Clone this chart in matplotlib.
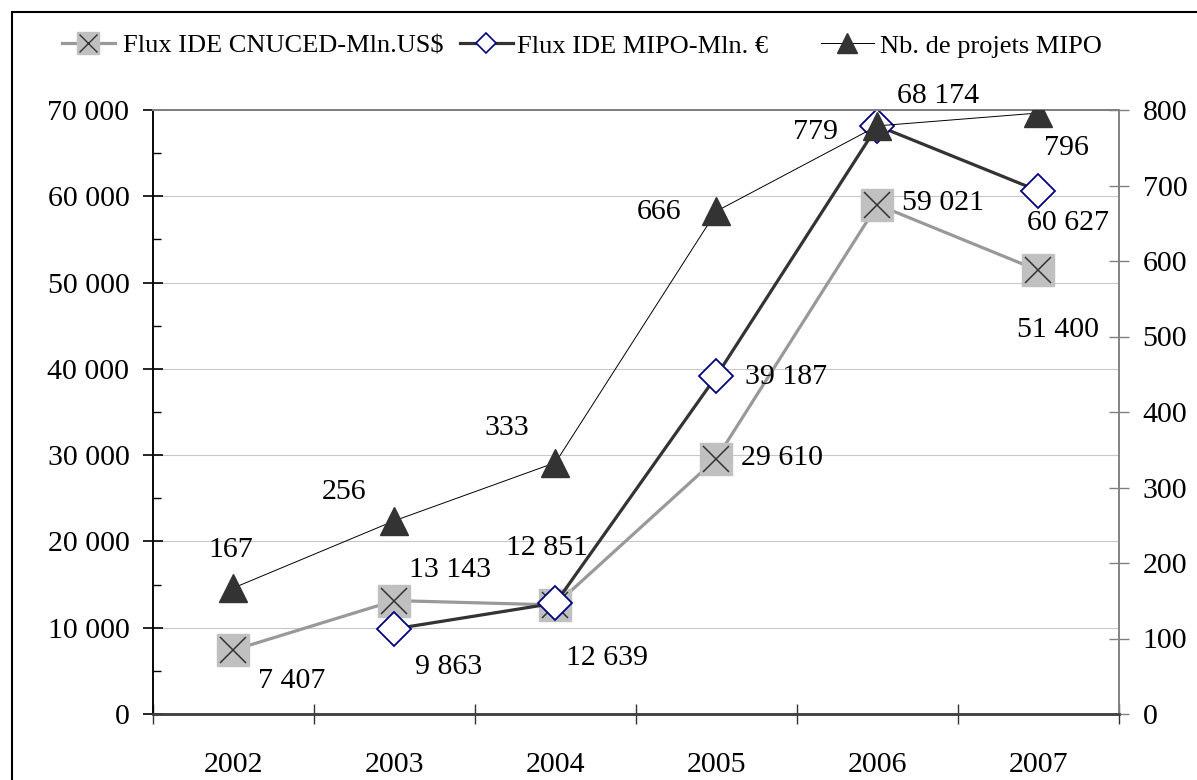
import matplotlib
matplotlib.use("Agg")
import matplotlib.pyplot as plt
from matplotlib.lines import Line2D
from matplotlib.patches import Rectangle
from matplotlib.ticker import FixedLocator, FuncFormatter, MultipleLocator

# ---- data ----
years = ["2002", "2003", "2004", "2005", "2006", "2007"]
flux_cnuced = [7407, 13143, 12639, 29610, 59021, 51400]
flux_mipo = [None, 9863, 12851, 39187, 68174, 60627]
nb_projets = [167, 256, 333, 666, 779, 796]

# label offsets in pixels (dx, dy), one per point
off_cnuced = [(58, -31), (56, 31), (52, -53), (66, 1), (66, 2), (20, -60)]
off_mipo = [None, (54, -38), (-9, 55), (70, -1), (61, 30), (30, -32)]
off_projets = [(-3, 38), (-50, 29), (-49, 35), (-57, -1), (-62, -6), (28, -35)]

plt.rcParams["font.family"] = ["Liberation Serif", "DejaVu Serif"]

W, H = 1197, 780
PX = 0.72  # points per pixel at dpi 100


def sp(v, _pos=None):
    return f"{v:,.0f}".replace(",", " ")


fig = plt.figure(figsize=(W / 100, H / 100), dpi=100)
ax = fig.add_axes([153 / W, 66 / H, (1119 - 153) / W, (714 - 110) / H])
ax2 = ax.twinx()

x = list(range(len(years)))
xm = [i for i, v in zip(x, flux_mipo) if v is not None]
ym = [v for v in flux_mipo if v is not None]

ax.plot(x, flux_cnuced, color="#999999", lw=2.3, zorder=3,
        marker="s", ms=23, mfc="#C0C0C0", mec="#C0C0C0")
ax.plot(x, flux_cnuced, ls="none", marker="x", ms=19, mec="#333333",
        mew=1.1, zorder=4)
ax.plot(xm, ym, color="#333333", lw=2.3, zorder=5,
        marker="D", ms=17.5, mfc="white", mec="#000080", mew=1.3)
ax2.plot(x, nb_projets, color="black", lw=0.7, zorder=3,
         marker="^", ms=20, mfc="#333333", mec="#333333")

fs = 21.5
for i, v in enumerate(flux_cnuced):
    dx, dy = off_cnuced[i]
    ax.annotate(sp(v), (i, v), xytext=(dx * PX, dy * PX),
                textcoords="offset points", ha="center", va="center",
                fontsize=fs, zorder=6)
for i, v in enumerate(flux_mipo):
    if v is None:
        continue
    dx, dy = off_mipo[i]
    ax.annotate(sp(v), (i, v), xytext=(dx * PX, dy * PX),
                textcoords="offset points", ha="center", va="center",
                fontsize=fs, zorder=6)
for i, v in enumerate(nb_projets):
    dx, dy = off_projets[i]
    ax2.annotate(str(v), (i, v), xytext=(dx * PX, dy * PX),
                 textcoords="offset points", ha="center", va="center",
                 fontsize=fs, zorder=6)

# axes limits and ticks
ax.set_xlim(-0.5, len(years) - 0.5)
ax.set_ylim(0, 70000)
ax2.set_ylim(0, 800)

ax.xaxis.set_major_locator(FixedLocator([i - 0.5 for i in range(len(years) + 1)]))
ax.xaxis.set_major_formatter(plt.NullFormatter())
ax.xaxis.set_minor_locator(FixedLocator(x))
ax.set_xticklabels(years, minor=True)
ax.tick_params(axis="x", which="major", direction="inout", length=14,
               width=1, color="#333333")
ax.tick_params(axis="x", which="minor", length=0, pad=27.5, labelsize=fs)

ax.yaxis.set_major_locator(MultipleLocator(10000))
ax.yaxis.set_minor_locator(MultipleLocator(5000))
ax.yaxis.set_major_formatter(FuncFormatter(sp))
ax.tick_params(axis="y", which="major", direction="inout", length=14,
               width=1.2, color="black", pad=10, labelsize=fs)
ax.tick_params(axis="y", which="minor", direction="in", length=5.8,
               width=1, color="black")

ax2.yaxis.set_major_locator(MultipleLocator(100))
ax2.tick_params(axis="y", which="major", direction="inout", length=14,
                width=1, color="#808080", pad=10, labelsize=fs)

ax.grid(axis="y", which="major", color="#C8C8C8", lw=0.8, zorder=0)
ax.set_axisbelow(True)

for a in (ax, ax2):
    a.spines["left"].set_color("black")
    a.spines["left"].set_linewidth(1.1)
    a.spines["bottom"].set_color("#404040")
    a.spines["bottom"].set_linewidth(1.8)
    a.spines["right"].set_color("#808080")
    a.spines["right"].set_linewidth(1.1)
    a.spines["top"].set_color("#808080")
    a.spines["top"].set_linewidth(1.4)

# outer frame, cut off at the right and bottom like the reference
fig.patches.append(Rectangle((11.5 / W, -0.2), 1.2, 1.2 - 11.5 / H,
                             transform=fig.transFigure, fill=False,
                             ec="black", lw=1.5))

# legend: three separate entries placed like the original
h_cnuced = (Line2D([], [], color="#999999", lw=2.3, marker="s", ms=16,
                   mfc="#C0C0C0", mec="#C0C0C0"),
            Line2D([], [], ls="none", marker="x", ms=13, mec="#333333", mew=1))
h_mipo = Line2D([], [], color="#333333", lw=2.3, marker="D", ms=10,
                mfc="white", mec="#000080", mew=1.2)
h_proj = Line2D([], [], color="black", lw=0.7, marker="^", ms=14,
                mfc="#333333", mec="#333333")
entries = [
    (h_cnuced, "Flux IDE CNUCED-Mln.US$", 62, 0.3),
    (h_mipo, "Flux IDE MIPO-Mln. €", 460, 0.15),
    (h_proj, "Nb. de projets MIPO", 821, 0.25),
]
for h, lab, x0, tp in entries:
    fig.legend([h], [lab], loc="center left", bbox_to_anchor=(x0 / W, 1 - 46 / H),
               frameon=False, fontsize=19, borderpad=0, borderaxespad=0,
               handlelength=2.0, handletextpad=tp)

fig.savefig("out.png", dpi=100)
